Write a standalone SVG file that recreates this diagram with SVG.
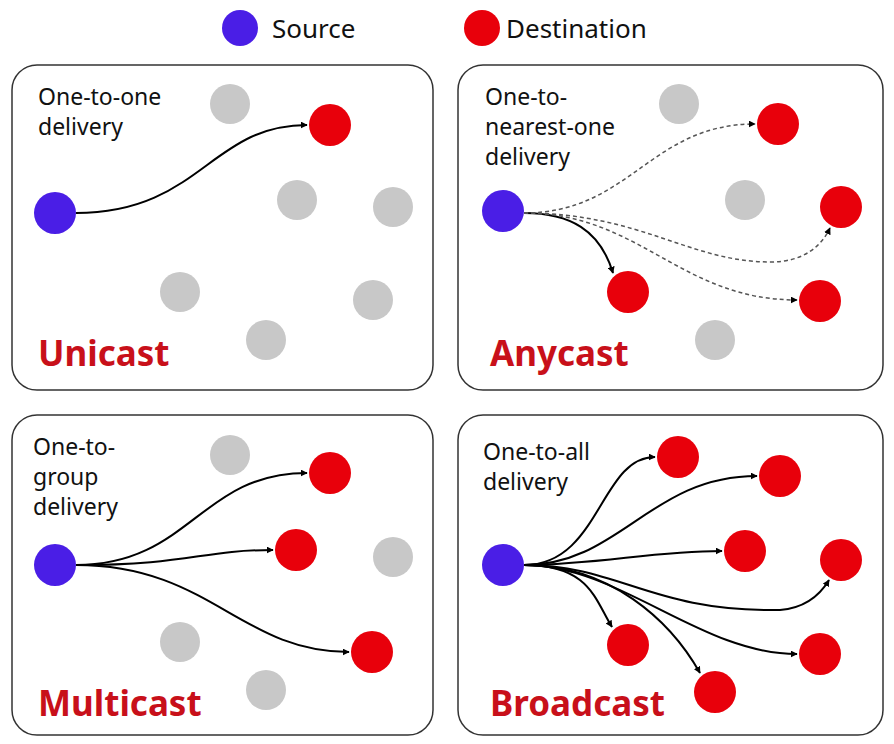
<svg xmlns="http://www.w3.org/2000/svg" width="894" height="744" viewBox="0 0 894 744">
<defs>
<marker id="ah" viewBox="0 0 10 10" refX="9" refY="5" markerWidth="7" markerHeight="7" orient="auto" markerUnits="userSpaceOnUse"><path d="M0,0L10,5L0,10z" fill="#000"/></marker>
<style>
.box{fill:#fff;stroke:#333;stroke-width:1.5}
.src{fill:#4a1ee6}.dst{fill:#e8000b}.gry{fill:#c8c8c8}
.t{font-family:"Noto Sans","Liberation Sans",sans-serif;font-size:23px;fill:#111}
.l{font-size:26px}
.h{font-family:"Noto Sans","Liberation Sans",sans-serif;font-size:35px;font-weight:bold;fill:#c8101a}
.c{fill:none;stroke:#000;stroke-width:2;marker-end:url(#ah)}
.d{fill:none;stroke:#555;stroke-width:1.5;stroke-dasharray:4,3;marker-end:url(#ah)}
</style>
</defs>
<rect width="894" height="744" fill="#fff"/>
<g id="legend">
<circle class="src" cx="240" cy="28" r="18"/><text class="t l" x="272" y="38">Source</text>
<circle class="dst" cx="482" cy="28" r="18"/><text class="t l" x="506" y="38">Destination</text>
</g>
<g id="unicast">
<rect class="box" x="12" y="65" width="421" height="325" rx="25"/>
<text class="t" x="38" y="105">One-to-one</text><text class="t" x="38" y="135">delivery</text>
<text class="h" x="38" y="366">Unicast</text>
<circle class="gry" cx="230" cy="104" r="20"/><circle class="gry" cx="297" cy="200" r="20"/><circle class="gry" cx="393" cy="207" r="20"/><circle class="gry" cx="180" cy="292" r="20"/><circle class="gry" cx="373" cy="300" r="20"/><circle class="gry" cx="266" cy="340" r="20"/>
<circle class="src" cx="55" cy="213" r="21"/><circle class="dst" cx="330" cy="125" r="21"/>
</g>
<g id="anycast">
<rect class="box" x="458" y="65" width="425" height="325" rx="25"/>
<text class="t" x="485" y="105">One-to-</text><text class="t" x="485" y="135">nearest-one</text><text class="t" x="485" y="165">delivery</text>
<text class="h" x="490" y="366">Anycast</text>
<circle class="gry" cx="679" cy="104" r="20"/><circle class="gry" cx="745" cy="200" r="20"/><circle class="gry" cx="715" cy="340" r="20"/>
<circle class="src" cx="503" cy="211" r="21"/>
<circle class="dst" cx="778" cy="124" r="21"/><circle class="dst" cx="841" cy="207" r="21"/><circle class="dst" cx="628" cy="292" r="21"/><circle class="dst" cx="820" cy="301" r="21"/>
</g>
<g id="multicast">
<rect class="box" x="12" y="415" width="421" height="320" rx="25"/>
<text class="t" x="33" y="455">One-to-</text><text class="t" x="33" y="485">group</text><text class="t" x="33" y="515">delivery</text>
<text class="h" x="38" y="716">Multicast</text>
<circle class="gry" cx="230" cy="455" r="20"/><circle class="gry" cx="393" cy="557" r="20"/><circle class="gry" cx="180" cy="642" r="20"/><circle class="gry" cx="266" cy="690" r="20"/>
<circle class="src" cx="55" cy="565" r="21"/>
<circle class="dst" cx="330" cy="473" r="21"/><circle class="dst" cx="296" cy="550" r="21"/><circle class="dst" cx="372" cy="652" r="21"/>
</g>
<g id="broadcast">
<rect class="box" x="458" y="415" width="425" height="320" rx="25"/>
<text class="t" x="483" y="460">One-to-all</text><text class="t" x="483" y="490">delivery</text>
<text class="h" x="490" y="716">Broadcast</text>
<circle class="src" cx="503" cy="565" r="21"/>
<circle class="dst" cx="678" cy="457" r="21"/><circle class="dst" cx="780" cy="476" r="21"/><circle class="dst" cx="745" cy="551" r="21"/><circle class="dst" cx="841" cy="560" r="21"/><circle class="dst" cx="628" cy="645" r="21"/><circle class="dst" cx="820" cy="654" r="21"/><circle class="dst" cx="715" cy="692" r="21"/>
</g>
<g id="connectors">
<path class="c" d="M76,213 C200,213 210,125 307,125"/>
<path class="c" d="M524,213 C570,213 600,230 613,273"/>
<path class="d" d="M524,213 C630,213 650,124 755,124"/>
<path class="d" d="M524,213 C640,213 690,262 770,262 C805,262 822,245 830,228"/>
<path class="d" d="M524,213 C640,213 680,300 797,300"/>
<path class="c" d="M76,565 C190,565 200,473 307,473"/>
<path class="c" d="M76,565 C190,565 200,550 273,550"/>
<path class="c" d="M76,565 C210,565 240,652 349,652"/>
<path class="c" d="M524,565 C600,565 600,457 655,457"/>
<path class="c" d="M524,565 C620,565 650,476 757,476"/>
<path class="c" d="M524,565 C600,565 650,551 722,551"/>
<path class="c" d="M524,565 C620,565 650,612 780,610 C805,608 820,595 829,580"/>
<path class="c" d="M524,565 C590,565 595,600 612,627"/>
<path class="c" d="M524,565 C620,565 700,654 797,654"/>
<path class="c" d="M524,565 C610,565 670,620 700,673"/>
</g>
</svg>
